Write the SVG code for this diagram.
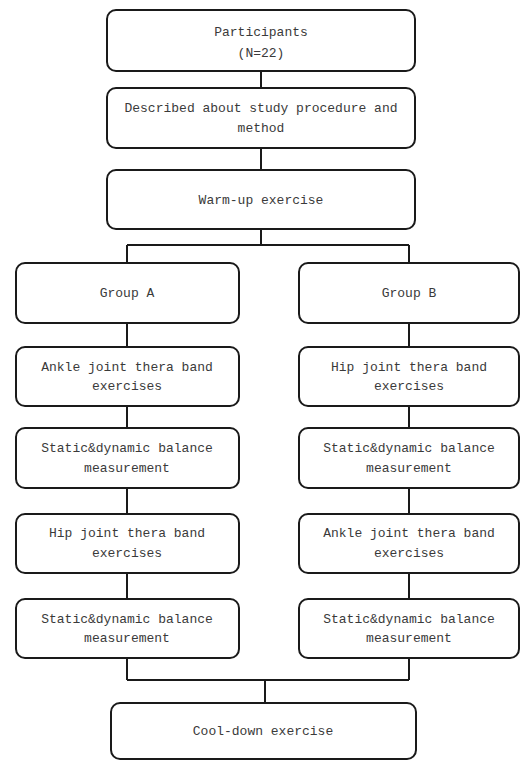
<svg xmlns="http://www.w3.org/2000/svg" width="520" height="761" viewBox="0 0 520 761">
<style>
.box{fill:#fff;stroke:#1a1a1a;stroke-width:2}
.ln{fill:none;stroke:#1a1a1a;stroke-width:2}
text{font-family:"Liberation Mono","DejaVu Sans Mono",monospace;font-size:13px;fill:#3a3a3a;text-anchor:middle}
</style>
<rect width="520" height="761" fill="#fff"/>
<g id="connectors">
<path class="ln" d="M261 71V88M261 148V170M261 230V245M127 245H409M127 245V263M409 245V263"/>
<path class="ln" d="M127 323V347M127 406V428M127 488V514M127 573V599M127 658V680"/>
<path class="ln" d="M409 323V347M409 406V428M409 488V514M409 573V599M409 658V680"/>
<path class="ln" d="M127 680H409M265 680V703"/>
</g>
<g id="participants"><rect class="box" x="107" y="10" width="308" height="61" rx="9"/><text x="261" y="36">Participants</text><text x="261" y="57">(N=22)</text></g>
<g id="described"><rect class="box" x="107" y="88" width="308" height="60" rx="9"/><text x="261" y="112">Described about study procedure and</text><text x="261" y="132">method</text></g>
<g id="warmup"><rect class="box" x="107" y="170" width="308" height="59" rx="9"/><text x="261" y="204">Warm-up exercise</text></g>
<g id="groupA"><rect class="box" x="16" y="263" width="223" height="60" rx="9"/><text x="127" y="297">Group A</text></g>
<g id="a1"><rect class="box" x="16" y="347" width="223" height="59" rx="9"/><text x="127" y="371">Ankle joint thera band</text><text x="127" y="390">exercises</text></g>
<g id="a2"><rect class="box" x="16" y="428" width="223" height="60" rx="9"/><text x="127" y="452">Static&amp;dynamic balance</text><text x="127" y="472">measurement</text></g>
<g id="a3"><rect class="box" x="16" y="514" width="223" height="59" rx="9"/><text x="127" y="537">Hip joint thera band</text><text x="127" y="557">exercises</text></g>
<g id="a4"><rect class="box" x="16" y="599" width="223" height="59" rx="9"/><text x="127" y="623">Static&amp;dynamic balance</text><text x="127" y="642">measurement</text></g>
<g id="groupB"><rect class="box" x="299" y="263" width="220" height="60" rx="9"/><text x="409" y="297">Group B</text></g>
<g id="b1"><rect class="box" x="299" y="347" width="220" height="59" rx="9"/><text x="409" y="371">Hip joint thera band</text><text x="409" y="390">exercises</text></g>
<g id="b2"><rect class="box" x="299" y="428" width="220" height="60" rx="9"/><text x="409" y="452">Static&amp;dynamic balance</text><text x="409" y="472">measurement</text></g>
<g id="b3"><rect class="box" x="299" y="514" width="220" height="59" rx="9"/><text x="409" y="537">Ankle joint thera band</text><text x="409" y="557">exercises</text></g>
<g id="b4"><rect class="box" x="299" y="599" width="220" height="59" rx="9"/><text x="409" y="623">Static&amp;dynamic balance</text><text x="409" y="642">measurement</text></g>
<g id="cooldown"><rect class="box" x="111" y="703" width="305" height="56" rx="9"/><text x="263" y="735">Cool-down exercise</text></g>
</svg>
